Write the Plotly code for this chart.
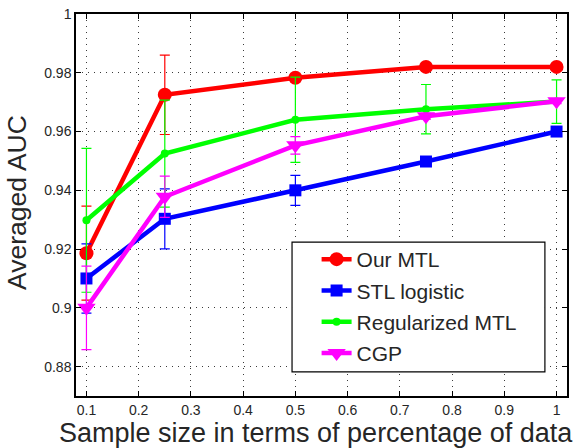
import plotly.graph_objects as go

x = [0.1, 0.25, 0.5, 0.75, 1.0]

our_mtl = [0.9186, 0.9725, 0.9783, 0.9820, 0.9820]
our_mtl_err = [0.0160, 0.0135, 0.0010, 0.0008, 0.0008]

stl_logistic = [0.9100, 0.9303, 0.9400, 0.9498, 0.9600]
stl_logistic_err = [0.0118, 0.0102, 0.0051, 0.0008, 0.0008]

reg_mtl = [0.9298, 0.9525, 0.9640, 0.9676, 0.9702]
reg_mtl_err = [0.0245, 0.0182, 0.0145, 0.0084, 0.0074]

cgp = [0.9000, 0.9378, 0.9553, 0.9652, 0.9703]
cgp_err = [0.0142, 0.0070, 0.0030, 0.0010, 0.0008]

x_ticks = [0.1, 0.2, 0.3, 0.4, 0.5, 0.6, 0.7, 0.8, 0.9, 1.0]
x_tick_labels = ["0.1", "0.2", "0.3", "0.4", "0.5", "0.6", "0.7", "0.8", "0.9", "1"]
y_ticks = [0.88, 0.90, 0.92, 0.94, 0.96, 0.98, 1.0]
y_tick_labels = ["0.88", "0.9", "0.92", "0.94", "0.96", "0.98", "1"]

x_title = "Sample size in terms of percentage of data"
y_title = "Averaged AUC"

series = [
    ("Our MTL", our_mtl, our_mtl_err, "#ff0000", "circle", 14),
    ("STL logistic", stl_logistic, stl_logistic_err, "#0000ff", "square", 12),
    ("Regularized MTL", reg_mtl, reg_mtl_err, "#00ff00", "circle", 8),
    ("CGP", cgp, cgp_err, "#ff00ff", "triangle-down", 16),
]

fig = go.Figure()
for name, vals, errs, color, sym, size in series:
    fig.add_trace(go.Scatter(
        x=x, y=vals, name=name, mode="lines+markers", legendgroup=name,
        line=dict(color=color, width=4.5),
        marker=dict(color=color, symbol=sym, size=size, line=dict(width=0)),
        error_y=dict(type="data", array=errs, visible=True, color=color,
                     thickness=1.2, width=5),
    ))

font_family = "Liberation Sans, Arial, Helvetica, sans-serif"
text_color = "#262626"

# legend frame (drawn as a layout shape so it can be as wide as the original)
fig.add_shape(type="rect", xref="paper", yref="paper",
              x0=0.440, x1=0.955, y0=0.063, y1=0.403,
              line=dict(color="black", width=1.2), fillcolor="white",
              layer="above")

fig.add_annotation(text=x_title, xref="paper", yref="paper",
                   x=0.4888, y=0, xanchor="center", yanchor="top",
                   yshift=-20, showarrow=False,
                   font=dict(size=27, family=font_family, color=text_color))
fig.add_annotation(text=y_title, xref="paper", yref="paper",
                   x=-0.1202, y=0.508, xanchor="center", yanchor="middle",
                   textangle=-90, showarrow=False,
                   font=dict(size=26.5, family=font_family, color=text_color))

grid_style = dict(showgrid=True, gridcolor="#3a3a3a", griddash="1px,5px",
                  gridwidth=1)
axis_style = dict(showline=True, linecolor="black", linewidth=1.5,
                  mirror="ticks", ticks="inside", ticklen=5,
                  tickcolor="black", zeroline=False,
                  tickfont=dict(size=14), automargin=False)

fig.update_layout(
    width=582, height=448,
    margin=dict(l=76, r=15, t=14, b=52),
    paper_bgcolor="white", plot_bgcolor="white",
    font=dict(family=font_family, color=text_color, size=14),
    showlegend=True,
    legend=dict(
        x=0.490, y=0.411, xanchor="left", yanchor="top",
        borderwidth=0, bgcolor="rgba(0,0,0,0)",
        font=dict(size=21, family=font_family, color=text_color),
        tracegroupgap=1, itemsizing="trace",
    ),
    xaxis=dict(range=[0.08, 1.02], tickvals=x_ticks, ticktext=x_tick_labels,
               **grid_style, **axis_style),
    yaxis=dict(range=[0.87, 1.0], tickvals=y_ticks, ticktext=y_tick_labels,
               **grid_style, **axis_style),
)

fig.write_html(
    "out.html",
    config={"displayModeBar": False},
    post_script="document.body.style.margin='0';document.body.style.overflow='hidden';",
)
